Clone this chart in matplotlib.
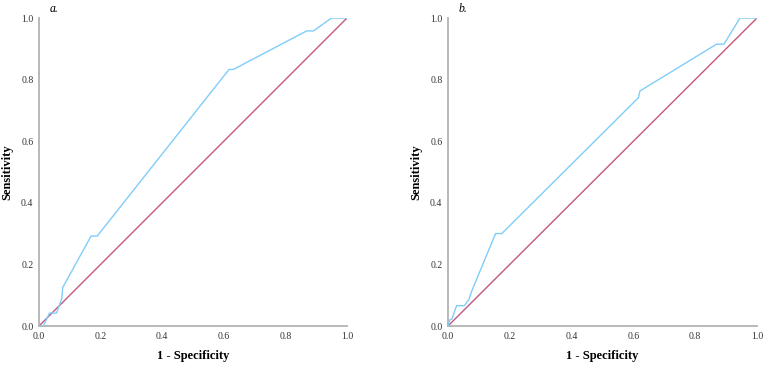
import matplotlib
matplotlib.use("Agg")
import matplotlib.pyplot as plt

# ROC curve a
fpr_a = [0.0, 0.014, 0.034, 0.057, 0.074, 0.077, 0.169, 0.189, 0.617, 0.631, 0.869, 0.891, 0.950, 1.0]
tpr_a = [0.0, 0.0, 0.042, 0.042, 0.090, 0.125, 0.292, 0.292, 0.833, 0.833, 0.958, 0.958, 1.0, 1.0]
# ROC curve b
fpr_b = [0.0, 0.006, 0.012, 0.028, 0.053, 0.068, 0.077, 0.154, 0.174, 0.616, 0.621, 0.869, 0.893, 0.945, 1.0]
tpr_b = [0.0, 0.020, 0.022, 0.066, 0.066, 0.087, 0.114, 0.300, 0.300, 0.741, 0.763, 0.915, 0.915, 1.0, 1.0]
ref_line = [0.0, 1.0]
ticks = [0.0, 0.2, 0.4, 0.6, 0.8, 1.0]
tick_labels = ["0.0", "0.2", "0.4", "0.6", "0.8", "1.0"]
panel_titles = ["a.", "b."]

plt.rcParams['font.family'] = ['Liberation Serif', 'DejaVu Serif']

fig = plt.figure(figsize=(7.64, 3.66), dpi=100)
ax_a = fig.add_axes([39/764, 1-326/366, 308/764, 308/366])
ax_b = fig.add_axes([448/764, 1-326/366, 309/764, 308/366])

blue = "#80cdfa"
pink = "#c4577f"
spine_col = "#b3b3b3"

for ax, fx, ty, title in [(ax_a, fpr_a, tpr_a, panel_titles[0]), (ax_b, fpr_b, tpr_b, panel_titles[1])]:
    ax.plot(ref_line, ref_line, color=pink, lw=1.0, zorder=2)
    ax.plot(fx, ty, color=blue, lw=1.0, zorder=3)
    ax.set_xlim(0, 1)
    ax.set_ylim(0, 1)
    ax.set_xticks(ticks)
    ax.set_xticklabels(tick_labels)
    ax.set_yticks(ticks)
    ax.set_yticklabels(tick_labels)
    ax.tick_params(length=0, labelsize=7, pad=4, colors="#333333")
    for s in ["top", "right"]:
        ax.spines[s].set_visible(False)
    for s in ["left", "bottom"]:
        ax.spines[s].set_color(spine_col)
        ax.spines[s].set_linewidth(1.3)
    ax.set_xlabel("1 - Specificity", fontsize=9, fontweight="bold", va="center")
    ax.set_ylabel("Sensitivity", fontsize=9, fontweight="bold", va="center")
    ax.xaxis.set_label_coords(0.5, -0.097)
    ax.yaxis.set_label_coords(-0.103, 0.5)
    ax.text(0.035, 1.02, title, transform=ax.transAxes, fontsize=8.5, style="italic",
            ha="left", va="baseline")

fig.savefig("out.png", dpi=100)
